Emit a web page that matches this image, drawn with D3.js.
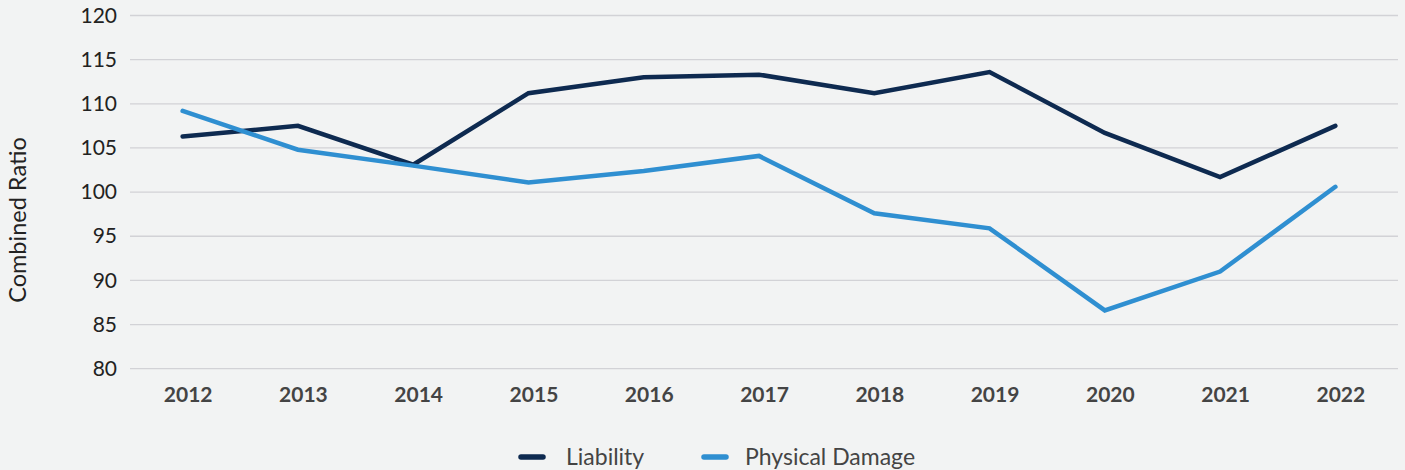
<!DOCTYPE html>
<html><head><meta charset="utf-8">
<script src="https://cdn.jsdelivr.net/npm/d3@7"></script>
<style>
html,body{margin:0;padding:0;background:#f2f3f3;}
svg{display:block;font-family:Lato, sans-serif;}
</style></head>
<body>
<svg id="chart" width="1405" height="470"></svg>
<script>
const years = ["2012","2013","2014","2015","2016","2017","2018","2019","2020","2021","2022"];
const liability = [106.3,107.5,103.1,111.2,113.0,113.3,111.2,113.6,106.7,101.7,107.5];
const physicalDamage = [109.2,104.8,103.0,101.1,102.4,104.1,97.6,95.9,86.6,91.0,100.6];
const yTicks = [80,85,90,95,100,105,110,115,120];
const seriesNames = ["Liability","Physical Damage"];
const seriesColors = ["#0e2a50","#2f8fd1"];

const svg = d3.select("#chart");
const W = 1405, H = 470;
svg.append("rect").attr("width",W).attr("height",H).attr("fill","#f2f3f3");
const m = {left:130, right:7, top:15.5, bottom:470-368.7};
const x = d3.scalePoint().domain(years).range([m.left, W-m.right]).padding(0.5);
const y = d3.scaleLinear().domain([80,120]).range([H-m.bottom, m.top]);

// gridlines
svg.append("g").selectAll("line").data(yTicks).join("line")
  .attr("x1",m.left).attr("x2",W-m.right)
  .attr("y1",d=>y(d)).attr("y2",d=>y(d))
  .attr("stroke","#d2d2d6").attr("stroke-width",1.3);

// y axis
const ya = svg.append("g").attr("transform",`translate(${m.left},0)`)
  .call(d3.axisLeft(y).tickValues(yTicks).tickSize(0).tickPadding(13));
ya.select(".domain").remove();
ya.selectAll("text").attr("font-family","Lato, sans-serif").attr("font-size",21).attr("fill","#222");

// x axis
const xa = svg.append("g").attr("transform",`translate(0,${H-m.bottom})`)
  .call(d3.axisBottom(x).tickSize(0).tickPadding(18));
xa.select(".domain").remove();
xa.selectAll("text").attr("font-family","Lato, sans-serif").attr("font-size",21).attr("font-weight","bold").attr("fill","#444");

// y title
svg.append("text").attr("transform",`translate(26,220) rotate(-90)`)
  .attr("text-anchor","middle").attr("font-size",23.5).attr("fill","#222").text("Combined Ratio");

const line = d3.line().x((d,i)=>x(years[i])-5).y(d=>y(d));
[liability, physicalDamage].forEach((s,k)=>{
  svg.append("path").datum(s).attr("d",line).attr("fill","none")
    .attr("stroke",seriesColors[k]).attr("stroke-width",4.5)
    .attr("stroke-linejoin","miter").attr("stroke-linecap","round");
});

// legend
const lg = svg.append("g").attr("transform","translate(0,457)");
const legX = [519, 702];
const legTextDx = [47, 43];
seriesNames.forEach((n,k)=>{
  lg.append("line").attr("x1",legX[k]+2).attr("x2",legX[k]+24).attr("y1",0).attr("y2",0)
    .attr("stroke",seriesColors[k]).attr("stroke-width",5.5).attr("stroke-linecap","round");
  lg.append("text").attr("x",legX[k]+legTextDx[k]).attr("y",8).attr("font-size",23).attr("fill","#444").text(n);
});
</script>
</body></html>
